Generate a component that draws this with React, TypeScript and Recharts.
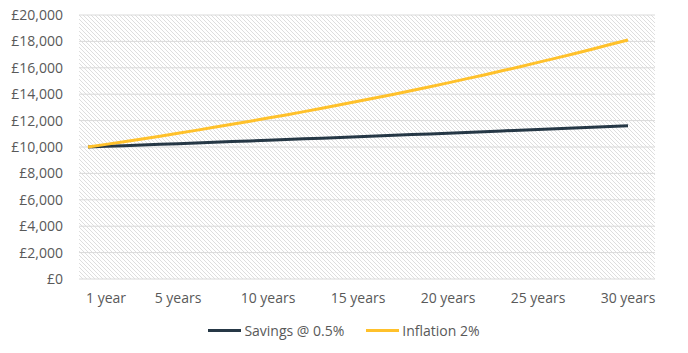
import React from "react";
import { LineChart, Line, XAxis, YAxis, CartesianGrid, Legend } from "recharts";

const years = [0, 1, 2, 3, 4, 5, 6, 7, 8, 9, 10, 11, 12, 13, 14, 15, 16, 17, 18, 19, 20, 21, 22, 23, 24, 25, 26, 27, 28, 29, 30];
const savings = [10000, 10050, 10100, 10150, 10200, 10250, 10300, 10360, 10410, 10460, 10510, 10560, 10620, 10670, 10720, 10780, 10830, 10890, 10940, 10990, 11050, 11100, 11160, 11220, 11270, 11330, 11390, 11440, 11500, 11560, 11610];
const inflation = [10000, 10200, 10400, 10610, 10820, 11040, 11260, 11490, 11720, 11950, 12190, 12430, 12680, 12940, 13200, 13460, 13730, 14000, 14280, 14570, 14860, 15160, 15460, 15770, 16080, 16410, 16730, 17070, 17410, 17760, 18110];
const xTicks = [1, 5, 10, 15, 20, 25, 30];
const yTicks = [0, 2000, 4000, 6000, 8000, 10000, 12000, 14000, 16000, 18000, 20000];
const seriesNames = ["Savings @ 0.5%", "Inflation 2%"];
const colors = ["#263846", "#FFC12B"];

const data = years.map((y, i) => ({ year: y, savings: savings[i], inflation: inflation[i] }));

const FONT = "'Open Sans', sans-serif";

const LegendContent = () => (
  <div style={{ display: "flex", justifyContent: "center", alignItems: "center", fontFamily: FONT, fontSize: 14, color: "#595959" }}>
    {seriesNames.map((n, i) => (
      <div key={n} style={{ display: "flex", alignItems: "center", marginRight: i === 0 ? 22 : 0 }}>
        <div style={{ width: 33, height: 3, background: colors[i], marginRight: 3 }} />
        <span>{n}</span>
      </div>
    ))}
  </div>
);

export default function App() {
  return (
    <div style={{ position: "absolute", left: 0, top: 0, width: 688, height: 353, background: "#fff" }}>
      <LineChart width={688} height={353} data={data} margin={{ top: 15, right: 33, bottom: 44, left: 0 }}>
        <defs>
          <pattern id="hatch" patternUnits="userSpaceOnUse" width="4" height="4">
            <rect width="4" height="4" fill="#ffffff" />
            <path d="M-1,-1 L5,5 M-1,3 L1,5 M3,-1 L5,1" stroke="#dedede" strokeWidth="1" />
          </pattern>
        </defs>
        <CartesianGrid vertical={false} stroke="#dadada" fill="url(#hatch)" fillOpacity={1} />
        <XAxis
          dataKey="year"
          type="number"
          domain={[-0.5, 31.5]}
          ticks={xTicks}
          tickFormatter={(v: number) => (v === 1 ? "1 year" : `${v} years`)}
          axisLine={false}
          tickLine={false}
          tickSize={6}
          tickMargin={8}
          height={30}
          interval={0}
          tick={{ fill: "#595959", fontSize: 14, fontFamily: FONT }}
        />
        <YAxis
          domain={[0, 20000]}
          ticks={yTicks}
          tickFormatter={(v: number) => `£${v.toLocaleString("en-GB")}`}
          axisLine={false}
          tickLine={false}
          tickSize={6}
          tickMargin={10}
          width={79}
          interval={0}
          tick={{ fill: "#595959", fontSize: 14, fontFamily: FONT }}
        />
        <Legend
          layout="horizontal"
          verticalAlign="middle"
          align="center"
          content={<LegendContent />}
          wrapperStyle={{ top: 321, left: 0, width: 688 }}
        />
        <Line type="linear" dataKey="savings" name={seriesNames[0]} stroke={colors[0]} strokeWidth={3} dot={false} isAnimationActive={false} />
        <Line type="linear" dataKey="inflation" name={seriesNames[1]} stroke={colors[1]} strokeWidth={3} dot={false} isAnimationActive={false} />
      </LineChart>
    </div>
  );
}
